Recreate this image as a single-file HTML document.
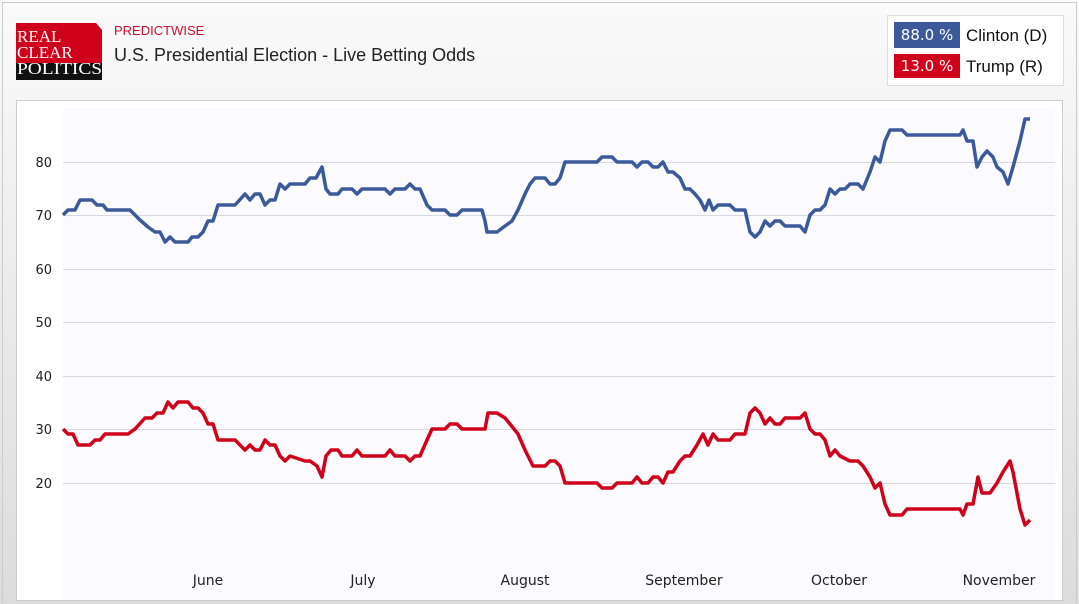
<!DOCTYPE html>
<html><head><style>
html,body{margin:0;width:1079px;height:604px;overflow:hidden}
body{background:linear-gradient(#fafafa,#dcdcdc);font-family:"Liberation Sans",sans-serif;position:relative}
.frame{position:absolute;left:2px;top:2px;width:1073px;height:600px;border:1px solid #ccc;border-bottom:none}
</style></head><body>
<div class="frame"></div>
<div style="position:absolute;left:16px;top:23px;width:86px;height:40px;background:#d0021b;clip-path:polygon(0 0,80px 0,86px 7px,86px 100%,0 100%)"></div>
<div style="position:absolute;left:16px;top:63px;width:86px;height:17px;background:#111"></div>
<div style="position:absolute;left:17px;top:29px;font-family:'Liberation Serif',serif;font-size:17px;line-height:16px;color:#fff">REAL<br>CLEAR<br><span style="display:inline-block;transform:scaleX(1.14);transform-origin:left">POLITICS</span></div>
<div style="position:absolute;left:114px;top:23px;font-size:13px;color:#c8102e">PREDICTWISE</div>
<div style="position:absolute;left:114px;top:45px;font-size:18px;color:#222">U.S. Presidential Election - Live Betting Odds</div>
<div style="position:absolute;left:887px;top:15px;width:175px;height:69px;background:#fff;border:1px solid #ddd"></div>
<div style="position:absolute;left:894px;top:22px;width:66px;height:26px;background:#3c5a99;color:#fff;font-family:'DejaVu Sans',sans-serif;font-size:15px;line-height:26px;text-align:center">88.0 %</div>
<div style="position:absolute;left:966px;top:26px;font-size:17px;color:#111">Clinton (D)</div>
<div style="position:absolute;left:894px;top:54px;width:66px;height:24px;background:#d0021b;color:#fff;font-family:'DejaVu Sans',sans-serif;font-size:15px;line-height:24px;text-align:center">13.0 %</div>
<div style="position:absolute;left:966px;top:57px;font-size:17px;color:#111">Trump (R)</div>
<svg style="position:absolute;left:0;top:0" width="1079" height="604">
<rect x="16.5" y="100.5" width="1046" height="500" fill="#fff" stroke="#ccc"/>
<rect x="63" y="108" width="992" height="492" fill="#fafaff"/>
<g stroke="#d8d8e0" stroke-width="1">
<line x1="63" x2="1055" y1="162.5" y2="162.5"/><line x1="63" x2="1055" y1="215.5" y2="215.5"/><line x1="63" x2="1055" y1="269.5" y2="269.5"/><line x1="63" x2="1055" y1="322.5" y2="322.5"/><line x1="63" x2="1055" y1="376.5" y2="376.5"/><line x1="63" x2="1055" y1="429.5" y2="429.5"/><line x1="63" x2="1055" y1="483.5" y2="483.5"/></g>
<g font-family="DejaVu Sans,sans-serif" font-size="13" fill="#222" text-anchor="end">
<text x="52" y="167">80</text><text x="52" y="220">70</text><text x="52" y="274">60</text><text x="52" y="327">50</text><text x="52" y="381">40</text><text x="52" y="434">30</text><text x="52" y="488">20</text></g>
<g font-family="DejaVu Sans,sans-serif" font-size="14" fill="#222" text-anchor="middle">
<text x="208" y="585">June</text><text x="363" y="585">July</text><text x="525" y="585">August</text><text x="684" y="585">September</text><text x="839" y="585">October</text><text x="999" y="585">November</text></g>
<polyline fill="none" stroke="#3c5a99" stroke-width="3.5" stroke-linejoin="round" points="63,215 68,210 75,210 80,200 92,200 97,205 103,205 107,210 130,210 140,220 148,227 155,232 160,232 165,242 170,237 175,242 188,242 192,237 198,237 203,232 208,221 213,221 218,205 235,205 245,194 250,200 255,194 260,194 265,205 270,200 275,200 280,184 285,189 290,184 305,184 310,178 316,178 322,167 326,189 330,194 338,194 342,189 352,189 357,194 362,189 385,189 390,194 395,189 405,189 410,184 415,189 420,189 427,205 432,210 445,210 450,215 457,215 462,210 482,210 485,221 487,232 497,232 505,226 512,221 518,210 525,194 530,184 535,178 545,178 550,184 555,184 560,178 565,162 597,162 602,157 612,157 617,162 632,162 637,167 642,162 648,162 653,167 658,167 663,162 668,172 673,172 680,178 685,189 690,189 695,194 700,200 705,210 709,200 713,210 718,205 730,205 735,210 745,210 750,232 755,237 760,232 765,221 770,226 775,221 780,221 785,226 800,226 805,232 810,215 815,210 820,210 825,205 830,189 835,194 840,189 845,189 850,184 858,184 863,189 870,172 875,157 880,162 885,141 890,130 902,130 907,135 960,135 963,130 967,141 973,141 977,167 982,157 987,151 993,157 997,167 1003,172 1008,184 1013,167 1020,141 1025,119 1030,119"/>
<polyline fill="none" stroke="#d0021b" stroke-width="3.5" stroke-linejoin="round" points="63,429 68,434 73,434 78,445 90,445 95,440 100,440 105,434 128,434 135,429 145,418 152,418 157,413 163,413 168,402 173,408 178,402 188,402 193,408 198,408 203,413 208,424 213,424 218,440 235,440 240,445 245,450 250,445 255,450 260,450 265,440 270,445 275,445 280,456 285,461 290,456 305,461 310,461 317,466 322,477 326,456 331,450 338,450 342,456 352,456 357,450 362,456 385,456 390,450 395,456 405,456 410,461 415,456 420,456 427,440 432,429 445,429 450,424 457,424 462,429 485,429 488,413 497,413 505,418 510,424 518,434 525,450 533,466 545,466 550,461 555,461 560,466 565,483 597,483 602,488 612,488 617,483 632,483 637,477 642,483 648,483 653,477 658,477 663,483 668,472 673,472 680,461 685,456 690,456 697,445 703,434 708,445 713,434 718,440 730,440 735,434 745,434 750,413 755,408 760,413 765,424 770,418 775,424 780,424 785,418 800,418 805,413 810,429 815,434 820,434 825,440 830,456 835,450 840,456 850,461 858,461 863,466 870,477 875,488 880,483 885,504 890,515 902,515 907,509 960,509 963,515 967,504 973,504 978,477 982,493 990,493 997,483 1003,472 1010,461 1013,472 1020,509 1025,525 1030,520"/>
</svg>
</body></html>
